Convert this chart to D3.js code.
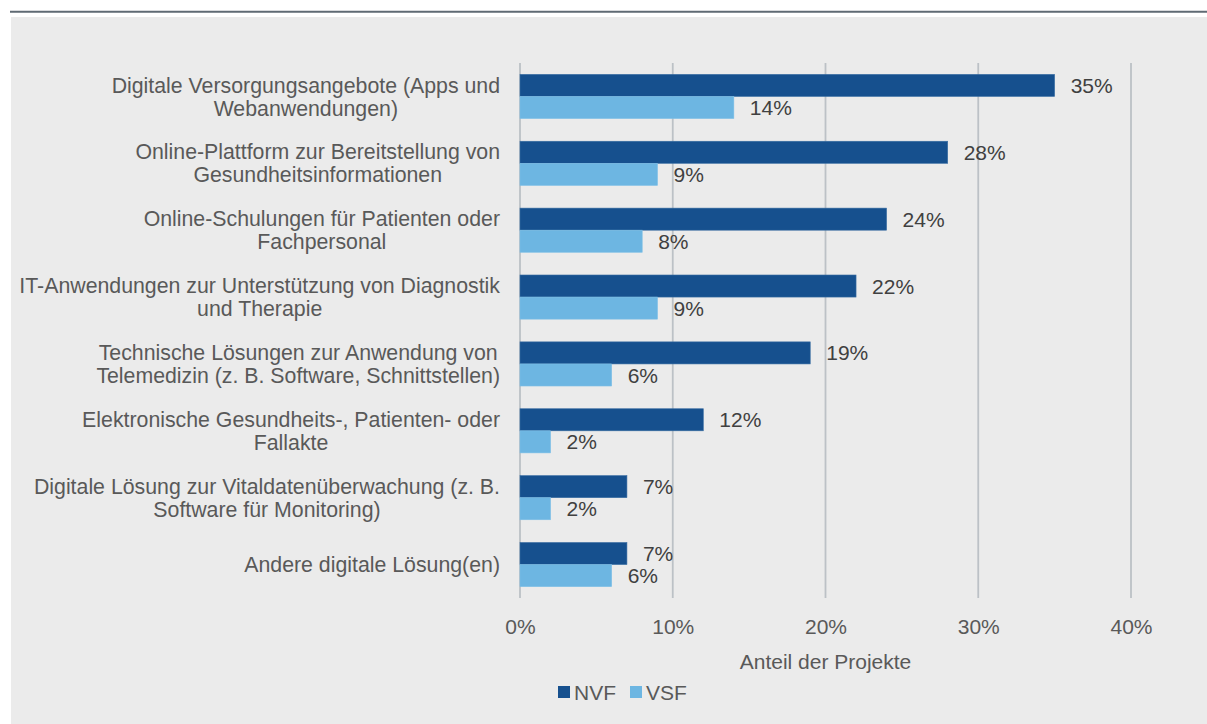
<!DOCTYPE html>
<html>
<head>
<meta charset="utf-8">
<script src="https://cdn.jsdelivr.net/npm/d3@7"></script>
<style>
  html, body { margin: 0; padding: 0; background: #ffffff; }
  svg { display: block; font-family: "Liberation Sans", Arial, sans-serif; }
</style>
</head>
<body>
<svg id="chart" width="1207" height="724"></svg>
<script>
// Kategorien (mehrzeilige Beschriftungen)
const categories = [
  ["Digitale Versorgungsangebote (Apps und", "Webanwendungen)"],
  ["Online-Plattform zur Bereitstellung von", "Gesundheitsinformationen"],
  ["Online-Schulungen für Patienten oder", "Fachpersonal"],
  ["IT-Anwendungen zur Unterstützung von Diagnostik", "und Therapie"],
  ["Technische Lösungen zur Anwendung von", "Telemedizin (z. B. Software, Schnittstellen)"],
  ["Elektronische Gesundheits-, Patienten- oder", "Fallakte"],
  ["Digitale Lösung zur Vitaldatenüberwachung (z. B.", "Software für Monitoring)"],
  ["Andere digitale Lösung(en)"]
];
const seriesNames = ["NVF", "VSF"];
const nvfValues = [35, 28, 24, 22, 19, 12, 7, 7];
const vsfValues = [14, 9, 8, 9, 6, 2, 2, 6];
const xTicks = [0, 10, 20, 30, 40];
const axisTitle = "Anteil der Projekte";

const colors = { NVF: "#16508e", VSF: "#6db6e2" };
const series = { NVF: nvfValues, VSF: vsfValues };
const textSize = 21;
const catTextSize = 21.3;

const svg = d3.select("#chart");

// Rahmen: Linie oben, grauer Hintergrund
svg.append("rect").attr("x", 11).attr("y", 17).attr("width", 1196).attr("height", 707).attr("fill", "#ebebeb");
svg.append("line").attr("x1", 10).attr("x2", 1207).attr("y1", 11.8).attr("y2", 11.8)
  .attr("stroke", "#5f6a73").attr("stroke-width", 2);

const plot = { left: 520, right: 1131, top: 63, bottom: 598 };

const x = d3.scaleLinear().domain([0, 40]).range([plot.left, plot.right]);
const y = d3.scaleBand().domain(d3.range(categories.length)).range([plot.top, plot.bottom]).paddingInner(0.34).paddingOuter(0.17);
const ySub = d3.scaleBand().domain(seriesNames).range([0, y.bandwidth()]);

// Gitterlinien
svg.append("g").selectAll("line").data(xTicks).join("line")
  .attr("x1", d => x(d)).attr("x2", d => x(d))
  .attr("y1", plot.top).attr("y2", plot.bottom)
  .attr("stroke", "#bcc1c6").attr("stroke-width", 1.8);

// Achse unten (nur Beschriftungen)
const xAxis = d3.axisBottom(x).tickValues(xTicks).tickFormat(d => d + "%").tickSize(0).tickPadding(0);
const gx = svg.append("g").attr("transform", `translate(0, 619)`).call(xAxis);
gx.select(".domain").remove();
gx.selectAll("text").attr("fill", "#595959").attr("font-size", textSize).attr("dy", "0.71em").attr("y", 0);

// Balken
const groups = svg.append("g").selectAll("g").data(categories).join("g")
  .attr("transform", (d, i) => `translate(0, ${y(i)})`);

seriesNames.forEach(name => {
  groups.append("rect")
    .attr("x", x(0))
    .attr("y", ySub(name))
    .attr("width", (d, i) => x(series[name][i]) - x(0))
    .attr("height", ySub.bandwidth())
    .attr("fill", colors[name])
    .attr("stroke", name === "NVF" ? "#3a6ea3" : "#7dbfe6")
    .attr("stroke-width", 0.6);
  groups.append("text")
    .attr("x", (d, i) => x(series[name][i]) + 16)
    .attr("y", ySub(name) + ySub.bandwidth() / 2)
    .attr("dy", "0.36em")
    .attr("fill", "#404040")
    .attr("font-size", textSize)
    .text((d, i) => series[name][i] + "%");
});

// Kategorienbeschriftungen: zeilenweise zentriert, Block rechtsbündig
const labelRight = 500;
const lineHeight = 23;
const catLabels = svg.append("g").selectAll("text").data(categories).join("text")
  .attr("fill", "#595959").attr("font-size", catTextSize).attr("text-anchor", "middle");
catLabels.each(function(lines, i) {
  const t = d3.select(this);
  const cy = y(i) + y.bandwidth() / 2;
  const spans = lines.map((ln, k) => t.append("tspan")
    .attr("y", cy + (k - (lines.length - 1) / 2) * lineHeight)
    .attr("dy", "0.36em")
    .text(ln));
  const maxW = d3.max(spans, s => s.node().getComputedTextLength());
  spans.forEach(s => s.attr("x", labelRight - maxW / 2));
});

// Achsentitel
svg.append("text").attr("x", (plot.left + plot.right) / 2).attr("y", 661).attr("dy", "0.36em")
  .attr("text-anchor", "middle").attr("fill", "#595959").attr("font-size", textSize).text(axisTitle);

// Legende
const legend = svg.append("g").attr("transform", "translate(558, 692)");
let lx = 0;
seriesNames.forEach(name => {
  const g = legend.append("g").attr("transform", `translate(${lx}, 0)`);
  g.append("rect").attr("x", 0).attr("y", -6).attr("width", 12).attr("height", 12).attr("fill", colors[name]);
  const t = g.append("text").attr("x", 16).attr("dy", "0.36em").attr("fill", "#595959").attr("font-size", textSize).text(name);
  lx += 16 + t.node().getComputedTextLength() + 14;
});
</script>
</body>
</html>
